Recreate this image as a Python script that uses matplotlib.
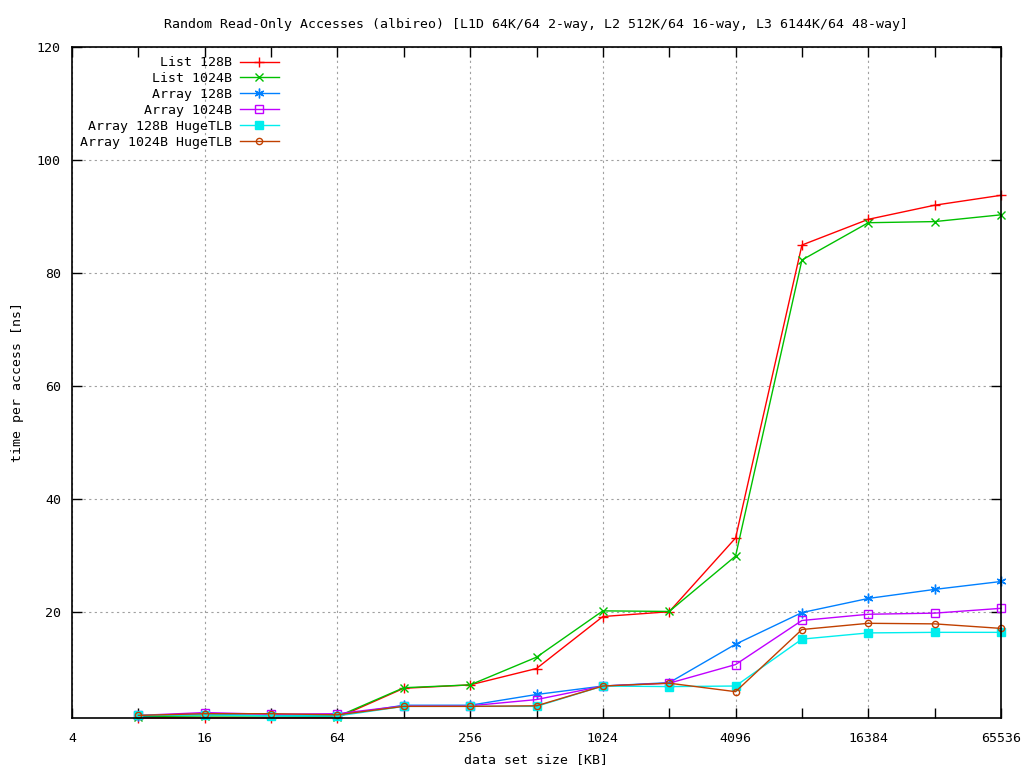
import numpy as np
import matplotlib
matplotlib.use("Agg")
import matplotlib.pyplot as plt
from matplotlib.ticker import FixedLocator, NullFormatter

# data set sizes in KB
sizes = [8, 16, 32, 64, 128, 256, 512, 1024, 2048, 4096, 8192, 16384, 32768, 65536]

list_128 = [1.25, 1.25, 1.25, 1.3, 6.5, 7.1, 10.0, 19.2, 20.05, 33.1, 84.95, 89.5, 92.0, 93.75]
list_1024 = [1.5, 1.6, 1.6, 1.5, 6.6, 7.1, 12.0, 20.2, 20.1, 29.9, 82.3, 88.9, 89.1, 90.3]
array_128 = [1.6, 1.9, 1.7, 1.7, 3.5, 3.5, 5.4, 6.9, 7.5, 14.3, 19.9, 22.4, 24.0, 25.4]
array_1024 = [1.7, 2.2, 1.9, 2.0, 3.4, 3.4, 4.5, 6.9, 7.4, 10.7, 18.5, 19.6, 19.8, 20.65]
array_128_huge = [1.7, 1.8, 1.6, 1.6, 3.3, 3.3, 3.3, 6.9, 6.8, 6.9, 15.2, 16.3, 16.4, 16.4]
array_1024_huge = [1.7, 2.0, 2.0, 1.8, 3.3, 3.3, 3.4, 6.9, 7.4, 5.9, 16.9, 18.0, 17.9, 17.1]

labels = ["List 128B", "List 1024B", "Array 128B", "Array 1024B",
          "Array 128B HugeTLB", "Array 1024B HugeTLB"]

x_ticks = [4, 16, 64, 256, 1024, 4096, 16384, 65536]
x_minor = [8, 32, 128, 512, 2048, 8192, 32768]
y_ticks = [20, 40, 60, 80, 100, 120]

plt.rcParams['font.family'] = ['DejaVu Sans Mono']
plt.rcParams['font.size'] = 9

fig = plt.figure(figsize=(10.24, 7.68), dpi=100)
ax = fig.add_axes([72/1024, 50/768, 929/1024, 671/768])

styles = [
    dict(color='#ff0000', marker='+', ms=7, mew=1.0),
    dict(color='#00c000', marker='x', ms=6, mew=1.0),
    dict(color='#0080ff', marker=(6, 2, 0), ms=7, mew=1.0),
    dict(color='#c000ff', marker='s', ms=6, mew=1.0, mfc='none'),
    dict(color='#00eeee', marker='s', ms=6, mew=1.0),
    dict(color='#c04000', marker='o', ms=4.5, mew=1.0, mfc='none'),
]
series = [list_128, list_1024, array_128, array_1024, array_128_huge, array_1024_huge]
for ys, lab, st in zip(series, labels, styles):
    ax.plot(sizes, ys, lw=1.0, label=lab, clip_on=False, **st)

ax.set_xscale('log', base=2)
ax.set_xlim(4, 65536)
ax.set_ylim(1.24, 120)
ax.xaxis.set_major_locator(FixedLocator(x_ticks))
ax.xaxis.set_minor_locator(FixedLocator(x_minor))
ax.xaxis.set_minor_formatter(NullFormatter())
ax.set_xticklabels([str(t) for t in x_ticks])
ax.set_yticks(y_ticks)
ax.set_yticklabels([str(t) for t in y_ticks])

ax.tick_params(which='both', direction='in', top=True, right=True, labelsize=9.5)
ax.tick_params(which='major', length=7, width=1)
ax.tick_params(which='minor', length=7, width=1)
ax.tick_params(axis='x', pad=10)
ax.tick_params(axis='y', pad=8)
ax.grid(True, which='major', color='#a0a0a0', linestyle=(0, (2, 3)), lw=0.8)

for sp in ax.spines.values():
    sp.set_linewidth(1.2)

ax.set_title('Random Read-Only Accesses (albireo) [L1D 64K/64 2-way, L2 512K/64 16-way, L3 6144K/64 48-way]',
             fontsize=9.5, pad=14)
ax.set_xlabel('data set size [KB]', fontsize=9.5, labelpad=6)
ax.set_ylabel('time per access [ns]', fontsize=9.5, labelpad=9)

leg = ax.legend(loc='upper left', bbox_to_anchor=(-0.006, 1.006), frameon=False,
                markerfirst=False, fontsize=9.5, handlelength=3.0, handletextpad=0.6,
                labelspacing=0.22, borderaxespad=0.6)
for t in leg.get_texts():
    t.set_ha('right')
leg._legend_box.align = 'right'

fig.savefig('out.png', dpi=100)
